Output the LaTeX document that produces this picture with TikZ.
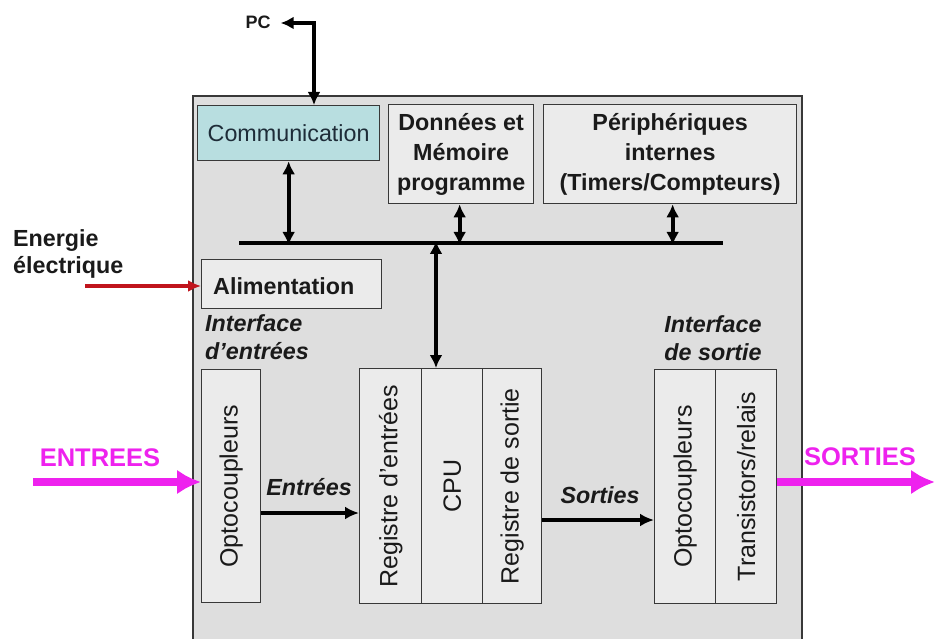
\documentclass[tikz,border=0pt]{standalone}
\usepackage{fontspec}
\setmainfont{Liberation Sans}
\usetikzlibrary{arrows.meta}

\definecolor{plcgray}{HTML}{DEDEDE}
\definecolor{boxfill}{HTML}{EBEBEB}
\definecolor{commfill}{HTML}{B8DEE0}
\definecolor{linegray}{HTML}{383838}
\definecolor{inktext}{HTML}{1A1A1A}
\definecolor{commtext}{HTML}{1E2C38}
\definecolor{sigmagenta}{HTML}{EE22EE}
\definecolor{powerred}{HTML}{C0141C}

\begin{document}
\begin{tikzpicture}[x=1pt,y=-1pt,
  txt/.style={font=\fontsize{23.3}{30}\selectfont, text=inktext, inner sep=0pt},
  btxt/.style={txt, font=\fontsize{23.3}{30}\selectfont\bfseries},
  bitxt/.style={txt, font=\fontsize{23.3}{28.5}\selectfont\bfseries\itshape},
  blk/.style={draw=linegray, line width=1.3pt, fill=boxfill, inner sep=0pt,
    anchor=north west, txt},
  vblk/.style={blk, font=\fontsize{25}{30}\selectfont},
  barrow/.style={draw=black, line width=4pt,
    {Latex[length=13pt,width=13pt]}-{Latex[length=13pt,width=13pt]}},
  sarrow/.style={draw=black, line width=4.3pt, -{Latex[length=14pt,width=13pt]}},
  busline/.style={draw=black, line width=4.3pt},
  marrow/.style={draw=sigmagenta, line width=8.5pt, -{Latex[length=24pt,width=25pt]}},
  parrow/.style={draw=powerred, line width=4pt, -{Latex[length=13pt,width=12pt]}},
  mtxt/.style={font=\fontsize{25.5}{30}\selectfont\bfseries, text=sigmagenta, inner sep=0pt}
]
\useasboundingbox (0,0) rectangle (935,639);

% automate enclosure (runs past the lower edge)
\fill[plcgray] (193,96) rectangle (802,639);
\draw[linegray, line width=1.5pt] (193,639) -- (193,96) -- (802,96) -- (802,639);

% upper row of blocks
\node[blk, fill=commfill, text=commtext, minimum width=182pt, minimum height=55pt]
  (comm) at (197,105) {Communication};
\node[blk, btxt, align=center, minimum width=145pt, minimum height=99pt]
  (mem) at (388,104) {Données et\\Mémoire\\programme};
\node[blk, btxt, align=center, minimum width=253pt, minimum height=99pt]
  (periph) at (543,104) {Périphériques\\internes\\(Timers/Compteurs)};

% internal bus
\coordinate (busL) at (239,243);
\coordinate (busR) at (723,243);
\draw[busline] (busL) -- (busR);

% PC link
\node[btxt, font=\fontsize{18}{22}\selectfont\bfseries] (pc) at (258,22) {PC};
\coordinate (pcbend) at (314,23);
\draw[barrow] (comm.north -| pcbend) -- (pcbend) -- ([xshift=10pt]pc.east |- pcbend);

% block <-> bus links
\draw[barrow] (comm.south) -- ([yshift=-2pt]comm.south |- busL);
\draw[barrow] ([xshift=-1.5pt]mem.south) -- ([xshift=-1.5pt,yshift=-2pt]mem.south |- busL);
\draw[barrow] ([xshift=2.5pt]periph.south) -- ([xshift=2.5pt,yshift=-2pt]periph.south |- busL);

% power supply
\node[blk, btxt, minimum width=180pt, minimum height=49pt] (alim) at (201,259) {};
\node[btxt, anchor=west] (alimtxt) at (213,286) {Alimentation};
\node[btxt, anchor=west, align=left, font=\fontsize{23.3}{27}\selectfont\bfseries]
  (energie) at (13,254) {Energie\\électrique};
\coordinate (pwrsrc) at (85,286);
\draw[parrow] (pwrsrc) -- (alim.west |- pwrsrc);

% input interface
\node[bitxt, anchor=north west, align=left] (ifin) at (205,314) {Interface\\d’entrées};
\node[vblk, minimum width=59pt, minimum height=233pt] (optoin) at (201,369)
  {\rotatebox{90}{Optocoupleurs}};

% processing unit
\node[vblk, minimum width=62pt, minimum height=235pt] (regin) at (359,368)
  {\rotatebox{90}{Registre d'entrées}};
\node[vblk, minimum width=61pt, minimum height=235pt] (cpu) at (421,368)
  {\rotatebox{90}{CPU}};
\node[vblk, minimum width=59pt, minimum height=235pt] (regout) at (482,368)
  {\rotatebox{90}{Registre de sortie}};
\coordinate (cpubus) at (436,243);
\draw[barrow] ([yshift=2pt]cpubus) -- (cpubus |- cpu.north);

% output interface
\node[bitxt, align=center] (ifout) at (713,338) {Interface\\de sortie};
\node[vblk, minimum width=61pt, minimum height=234pt] (optoout) at (654,369)
  {\rotatebox{90}{Optocoupleurs}};
\node[vblk, minimum width=61pt, minimum height=234pt] (trans) at (715,369)
  {\rotatebox{90}{Transistors/relais}};

% internal signal flow
\coordinate (inrow) at (0,513);
\coordinate (outrow) at (0,520);
\draw[sarrow] (optoin.east |- inrow) -- (regin.west |- inrow);
\node[bitxt] (lblin) at (309,487) {Entrées};
\draw[sarrow] (regout.east |- outrow) -- (optoout.west |- outrow);
\node[bitxt] (lblout) at (600,495) {Sorties};

% external inputs and outputs
\node[mtxt] (entrees) at (100,458) {ENTREES};
\coordinate (insrc) at (33,482);
\draw[marrow] (insrc) -- (optoin.west |- insrc);
\node[mtxt] (sorties) at (860,457) {SORTIES};
\coordinate (outdst) at (935,482);
\draw[marrow] (trans.east |- outdst) -- (outdst);
\end{tikzpicture}
\end{document}
